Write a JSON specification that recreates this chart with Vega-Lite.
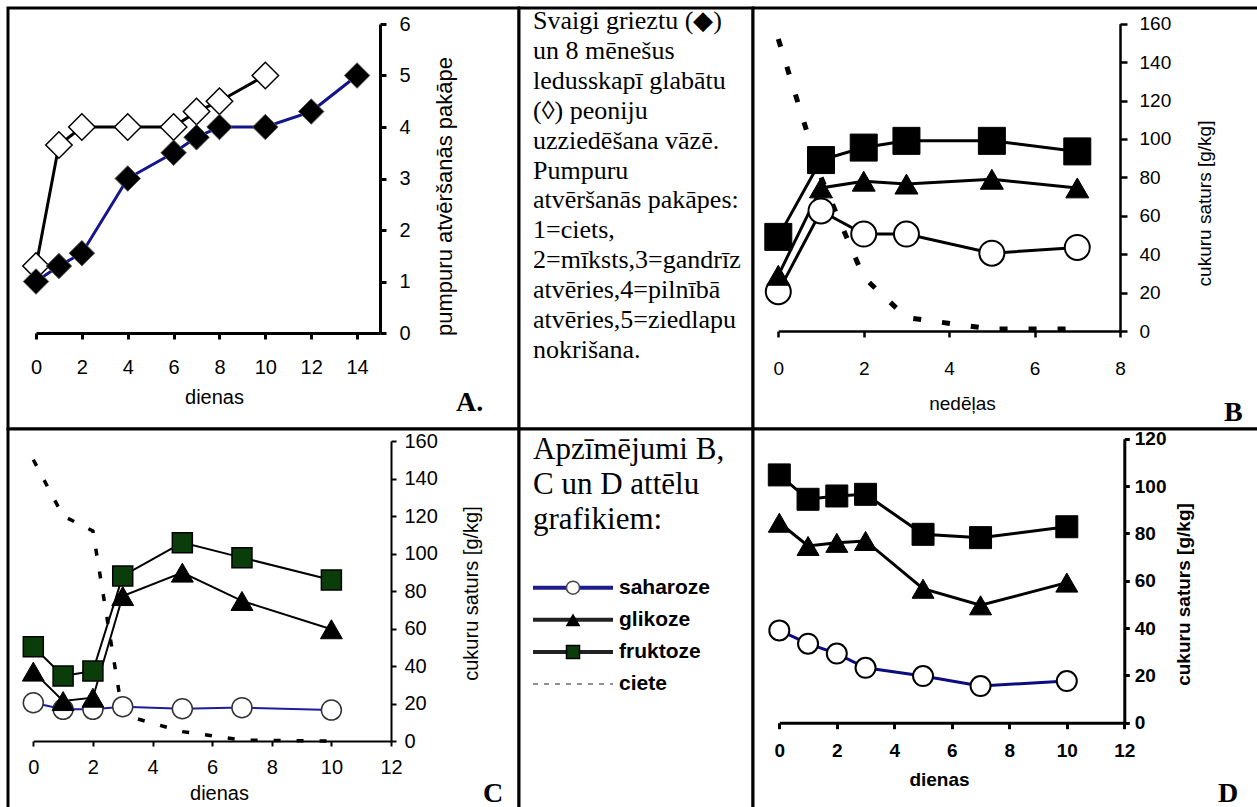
{
  "$schema": "https://vega.github.io/schema/vega-lite/v6.json",
  "padding": {"left": 6, "top": 6, "right": 0, "bottom": 0},
  "background": "white",
  "config": {
    "view": {"stroke": "black", "strokeWidth": 3, "fill": "white"},
    "axis": {"grid": false, "domainColor": "black", "tickColor": "black", "labelColor": "black", "titleColor": "black", "labelFont": "Liberation Sans", "titleFont": "Liberation Sans", "titleFontWeight": "normal", "labelOverlap": false, "labelFlush": false, "labelBound": false}
  },
  "datasets": {
    "A": [
      {"diena": 0, "pakape": 1.0, "ziedi": "svaigi"},
      {"diena": 1, "pakape": 1.3, "ziedi": "svaigi"},
      {"diena": 2, "pakape": 1.55, "ziedi": "svaigi"},
      {"diena": 4, "pakape": 3.0, "ziedi": "svaigi"},
      {"diena": 6, "pakape": 3.5, "ziedi": "svaigi"},
      {"diena": 7, "pakape": 3.8, "ziedi": "svaigi"},
      {"diena": 8, "pakape": 4.0, "ziedi": "svaigi"},
      {"diena": 10, "pakape": 4.0, "ziedi": "svaigi"},
      {"diena": 12, "pakape": 4.3, "ziedi": "svaigi"},
      {"diena": 14, "pakape": 5.0, "ziedi": "svaigi"},
      {"diena": 0, "pakape": 1.3, "ziedi": "glabati"},
      {"diena": 1, "pakape": 3.65, "ziedi": "glabati"},
      {"diena": 2, "pakape": 4.0, "ziedi": "glabati"},
      {"diena": 4, "pakape": 4.0, "ziedi": "glabati"},
      {"diena": 6, "pakape": 4.0, "ziedi": "glabati"},
      {"diena": 7, "pakape": 4.3, "ziedi": "glabati"},
      {"diena": 8, "pakape": 4.5, "ziedi": "glabati"},
      {"diena": 10, "pakape": 5.0, "ziedi": "glabati"}
    ],
    "B": [
      {"nedela": 0, "saturs": 49, "cukurs": "fruktoze"},
      {"nedela": 1, "saturs": 89, "cukurs": "fruktoze"},
      {"nedela": 2, "saturs": 95.5, "cukurs": "fruktoze"},
      {"nedela": 3, "saturs": 99, "cukurs": "fruktoze"},
      {"nedela": 5, "saturs": 99, "cukurs": "fruktoze"},
      {"nedela": 7, "saturs": 93.5, "cukurs": "fruktoze"},
      {"nedela": 0, "saturs": 29, "cukurs": "glikoze"},
      {"nedela": 1, "saturs": 74.5, "cukurs": "glikoze"},
      {"nedela": 2, "saturs": 78, "cukurs": "glikoze"},
      {"nedela": 3, "saturs": 76.5, "cukurs": "glikoze"},
      {"nedela": 5, "saturs": 79, "cukurs": "glikoze"},
      {"nedela": 7, "saturs": 74.5, "cukurs": "glikoze"},
      {"nedela": 0, "saturs": 20.5, "cukurs": "saharoze"},
      {"nedela": 1, "saturs": 62.5, "cukurs": "saharoze"},
      {"nedela": 2, "saturs": 50.5, "cukurs": "saharoze"},
      {"nedela": 3, "saturs": 50.5, "cukurs": "saharoze"},
      {"nedela": 5, "saturs": 40.5, "cukurs": "saharoze"},
      {"nedela": 7, "saturs": 43.5, "cukurs": "saharoze"},
      {"nedela": 0, "saturs": 152, "cukurs": "ciete"},
      {"nedela": 1, "saturs": 80, "cukurs": "ciete"},
      {"nedela": 2, "saturs": 28, "cukurs": "ciete"},
      {"nedela": 3, "saturs": 7, "cukurs": "ciete"},
      {"nedela": 5, "saturs": 1, "cukurs": "ciete"},
      {"nedela": 7, "saturs": 1, "cukurs": "ciete"}
    ],
    "C": [
      {"diena": 0, "saturs": 50.3, "cukurs": "fruktoze"},
      {"diena": 1, "saturs": 34.7, "cukurs": "fruktoze"},
      {"diena": 2, "saturs": 37.3, "cukurs": "fruktoze"},
      {"diena": 3, "saturs": 88, "cukurs": "fruktoze"},
      {"diena": 5, "saturs": 105.8, "cukurs": "fruktoze"},
      {"diena": 7, "saturs": 97.8, "cukurs": "fruktoze"},
      {"diena": 10, "saturs": 85.9, "cukurs": "fruktoze"},
      {"diena": 0, "saturs": 37, "cukurs": "glikoze"},
      {"diena": 1, "saturs": 21.3, "cukurs": "glikoze"},
      {"diena": 2, "saturs": 23.1, "cukurs": "glikoze"},
      {"diena": 3, "saturs": 77.3, "cukurs": "glikoze"},
      {"diena": 5, "saturs": 89.8, "cukurs": "glikoze"},
      {"diena": 7, "saturs": 74.7, "cukurs": "glikoze"},
      {"diena": 10, "saturs": 59.6, "cukurs": "glikoze"},
      {"diena": 0, "saturs": 20.4, "cukurs": "saharoze"},
      {"diena": 1, "saturs": 16.9, "cukurs": "saharoze"},
      {"diena": 2, "saturs": 16.9, "cukurs": "saharoze"},
      {"diena": 3, "saturs": 18.3, "cukurs": "saharoze"},
      {"diena": 5, "saturs": 17.2, "cukurs": "saharoze"},
      {"diena": 7, "saturs": 17.8, "cukurs": "saharoze"},
      {"diena": 10, "saturs": 16.5, "cukurs": "saharoze"},
      {"diena": 0, "saturs": 150, "cukurs": "ciete"},
      {"diena": 1, "saturs": 120, "cukurs": "ciete"},
      {"diena": 2, "saturs": 112, "cukurs": "ciete"},
      {"diena": 3, "saturs": 14, "cukurs": "ciete"},
      {"diena": 5, "saturs": 5, "cukurs": "ciete"},
      {"diena": 7, "saturs": 0.5, "cukurs": "ciete"},
      {"diena": 10, "saturs": 0, "cukurs": "ciete"}
    ],
    "D": [
      {"diena": 0, "saturs": 104.7, "cukurs": "fruktoze"},
      {"diena": 1, "saturs": 94.4, "cukurs": "fruktoze"},
      {"diena": 2, "saturs": 95.8, "cukurs": "fruktoze"},
      {"diena": 3, "saturs": 96.5, "cukurs": "fruktoze"},
      {"diena": 5, "saturs": 79.6, "cukurs": "fruktoze"},
      {"diena": 7, "saturs": 78.2, "cukurs": "fruktoze"},
      {"diena": 10, "saturs": 82.8, "cukurs": "fruktoze"},
      {"diena": 0, "saturs": 84.5, "cukurs": "glikoze"},
      {"diena": 1, "saturs": 74.7, "cukurs": "glikoze"},
      {"diena": 2, "saturs": 76, "cukurs": "glikoze"},
      {"diena": 3, "saturs": 76.8, "cukurs": "glikoze"},
      {"diena": 5, "saturs": 56.6, "cukurs": "glikoze"},
      {"diena": 7, "saturs": 49.6, "cukurs": "glikoze"},
      {"diena": 10, "saturs": 59.2, "cukurs": "glikoze"},
      {"diena": 0, "saturs": 39, "cukurs": "saharoze"},
      {"diena": 1, "saturs": 33.4, "cukurs": "saharoze"},
      {"diena": 2, "saturs": 29.2, "cukurs": "saharoze"},
      {"diena": 3, "saturs": 23.2, "cukurs": "saharoze"},
      {"diena": 5, "saturs": 19.7, "cukurs": "saharoze"},
      {"diena": 7, "saturs": 15.5, "cukurs": "saharoze"},
      {"diena": 10, "saturs": 17.6, "cukurs": "saharoze"}
    ],
    "opis": [
      {"rinda": 1, "teksts": "Svaigi grieztu (◆)"},
      {"rinda": 2, "teksts": "un 8 mēnešus"},
      {"rinda": 3, "teksts": "ledusskapī glabātu"},
      {"rinda": 4, "teksts": "(◊) peoniju"},
      {"rinda": 5, "teksts": "uzziedēšana vāzē."},
      {"rinda": 6, "teksts": "Pumpuru"},
      {"rinda": 7, "teksts": "atvēršanās pakāpes:"},
      {"rinda": 8, "teksts": "1=ciets,"},
      {"rinda": 9, "teksts": "2=mīksts,3=gandrīz"},
      {"rinda": 10, "teksts": "atvēries,4=pilnībā"},
      {"rinda": 11, "teksts": "atvēries,5=ziedlapu"},
      {"rinda": 12, "teksts": "nokrišana."}
    ],
    "apz": [
      {"rinda": 1, "teksts": "Apzīmējumi B,"},
      {"rinda": 2, "teksts": "C un D attēlu"},
      {"rinda": 3, "teksts": "grafikiem:"}
    ],
    "leg": [
      {"cukurs": "saharoze"},
      {"cukurs": "glikoze"},
      {"cukurs": "fruktoze"},
      {"cukurs": "ciete"}
    ]
  },
  "columns": 3,
  "spacing": 0,
  "bounds": "flush",
  "concat": [
    {
      "width": 511, "height": 421,
      "data": {"name": "A"},
      "encoding": {
        "x": {"field": "diena", "type": "quantitative", "scale": {"domain": [0, 15], "range": [28, 372], "nice": false, "zero": false},
          "axis": {"orient": "bottom", "offset": -96, "values": [0, 2, 4, 6, 8, 10, 12, 14], "title": "dienas", "labelFontSize": 20, "titleFontSize": 20, "tickSize": 6, "tickWidth": 3, "domainWidth": 3, "labelPadding": 18, "titleX": 206, "titleY": 70, "titleBaseline": "alphabetic"}},
        "y": {"field": "pakape", "type": "quantitative", "scale": {"domain": [0, 6], "range": [325, 16], "nice": false},
          "axis": {"orient": "right", "offset": -139, "values": [0, 1, 2, 3, 4, 5, 6], "title": "pumpuru atvēršanās pakāpe", "titleAngle": 270, "titleBaseline": "middle", "titleX": 64, "titleY": 188, "labelFontSize": 20, "titleFontSize": 22, "tickSize": 6, "tickWidth": 3, "domainWidth": 3, "labelPadding": 13}}
      },
      "layer": [
        {"transform": [{"filter": "datum.ziedi === 'glabati'"}], "mark": {"type": "line", "color": "black", "strokeWidth": 3}},
        {"transform": [{"filter": "datum.ziedi === 'glabati'"}], "mark": {"type": "point", "shape": "diamond", "filled": true, "fill": "white", "stroke": "black", "strokeWidth": 1.5, "size": 700, "opacity": 1}},
        {"transform": [{"filter": "datum.ziedi === 'svaigi'"}], "mark": {"type": "line", "color": "#14148c", "strokeWidth": 3}},
        {"transform": [{"filter": "datum.ziedi === 'svaigi'"}], "mark": {"type": "point", "shape": "diamond", "filled": true, "fill": "black", "stroke": "#555", "strokeWidth": 1, "size": 650, "opacity": 1}},
        {"data": {"values": [{"burts": "A."}]}, "mark": {"type": "text", "font": "Liberation Serif", "fontWeight": "bold", "fontSize": 28, "align": "left", "baseline": "alphabetic"},
          "encoding": {"x": {"value": 448}, "y": {"value": 403}, "text": {"field": "burts"}}}
      ]
    },
    {
      "width": 234, "height": 421,
      "data": {"name": "opis"},
      "mark": {"type": "text", "font": "Liberation Serif", "fontSize": 26, "align": "left", "baseline": "alphabetic", "color": "black"},
      "encoding": {
        "x": {"value": 14},
        "y": {"field": "rinda", "type": "quantitative", "scale": {"domain": [1, 12], "range": [21, 350], "nice": false, "zero": false}, "axis": null},
        "text": {"field": "teksts"}
      }
    },
    {
      "width": 507, "height": 421,
      "data": {"name": "B"},
      "encoding": {
        "x": {"field": "nedela", "type": "quantitative", "scale": {"domain": [0, 8], "range": [25.3, 367], "nice": false, "zero": false},
          "axis": {"orient": "bottom", "offset": -98, "values": [0, 2, 4, 6, 8], "title": "nedēļas", "labelFontSize": 19, "titleFontSize": 19, "tickSize": 6, "tickWidth": 2.5, "domainWidth": 2.5, "labelPadding": 22, "titleX": 209, "titleY": 78, "titleBaseline": "alphabetic"}},
        "y": {"field": "saturs", "type": "quantitative", "scale": {"domain": [0, 160], "range": [323, 15.7], "nice": false},
          "axis": {"orient": "right", "offset": -140, "values": [0, 20, 40, 60, 80, 100, 120, 140, 160], "title": "cukuru saturs [g/kg]", "titleAngle": 270, "titleBaseline": "middle", "titleX": 84, "titleY": 195, "labelFontSize": 19, "titleFontSize": 19, "tickSize": 7, "tickWidth": 2.5, "domainWidth": 2.5, "labelPadding": 12}}
      },
      "layer": [
        {"transform": [{"filter": "datum.cukurs === 'ciete'"}], "mark": {"type": "line", "color": "black", "strokeWidth": 5, "strokeDash": [8, 21]}},
        {"transform": [{"filter": "datum.cukurs === 'saharoze'"}], "mark": {"type": "line", "color": "black", "strokeWidth": 3}},
        {"transform": [{"filter": "datum.cukurs === 'glikoze'"}], "mark": {"type": "line", "color": "black", "strokeWidth": 3}},
        {"transform": [{"filter": "datum.cukurs === 'fruktoze'"}], "mark": {"type": "line", "color": "black", "strokeWidth": 3}},
        {"transform": [{"filter": "datum.cukurs === 'saharoze'"}], "mark": {"type": "point", "shape": "circle", "filled": true, "fill": "white", "stroke": "black", "strokeWidth": 2, "size": 625, "opacity": 1}},
        {"transform": [{"filter": "datum.cukurs === 'glikoze'"}], "mark": {"type": "point", "shape": "triangle-up", "filled": true, "fill": "black", "stroke": "black", "strokeWidth": 1, "size": 529, "opacity": 1}},
        {"transform": [{"filter": "datum.cukurs === 'fruktoze'"}], "mark": {"type": "point", "shape": "square", "filled": true, "fill": "black", "stroke": "black", "strokeWidth": 1, "size": 729, "opacity": 1}},
        {"data": {"values": [{"burts": "B"}]}, "mark": {"type": "text", "font": "Liberation Serif", "fontWeight": "bold", "fontSize": 28, "align": "left", "baseline": "alphabetic"},
          "encoding": {"x": {"value": 471}, "y": {"value": 413}, "text": {"field": "burts"}}}
      ]
    },
    {
      "width": 511, "height": 385,
      "data": {"name": "C"},
      "encoding": {
        "x": {"field": "diena", "type": "quantitative", "scale": {"domain": [0, 12], "range": [25.3, 383], "nice": false, "zero": false},
          "axis": {"orient": "bottom", "offset": -73, "values": [0, 2, 4, 6, 8, 10, 12], "title": "dienas", "labelFontSize": 20, "titleFontSize": 20, "tickSize": 5, "tickWidth": 2, "domainWidth": 2, "labelPadding": 11, "titleX": 211, "titleY": 58, "titleBaseline": "alphabetic"}},
        "y": {"field": "saturs", "type": "quantitative", "scale": {"domain": [0, 160], "range": [312, 12], "nice": false},
          "axis": {"orient": "right", "offset": -128, "values": [0, 20, 40, 60, 80, 100, 120, 140, 160], "title": "cukuru saturs [g/kg]", "titleAngle": 270, "titleBaseline": "middle", "titleX": 80, "titleY": 164, "labelFontSize": 20, "titleFontSize": 20, "tickSize": 5, "tickWidth": 2, "domainWidth": 2, "labelPadding": 8}}
      },
      "layer": [
        {"transform": [{"filter": "datum.cukurs === 'ciete'"}], "mark": {"type": "line", "color": "black", "strokeWidth": 3.5, "strokeDash": [7, 16]}},
        {"transform": [{"filter": "datum.cukurs === 'saharoze'"}], "mark": {"type": "line", "color": "#1c1ca0", "strokeWidth": 2}},
        {"transform": [{"filter": "datum.cukurs === 'glikoze'"}], "mark": {"type": "line", "color": "black", "strokeWidth": 2}},
        {"transform": [{"filter": "datum.cukurs === 'fruktoze'"}], "mark": {"type": "line", "color": "black", "strokeWidth": 2}},
        {"transform": [{"filter": "datum.cukurs === 'saharoze'"}], "mark": {"type": "point", "shape": "circle", "filled": true, "fill": "white", "stroke": "#333", "strokeWidth": 1.5, "size": 400, "opacity": 1}},
        {"transform": [{"filter": "datum.cukurs === 'glikoze'"}], "mark": {"type": "point", "shape": "triangle-up", "filled": true, "fill": "black", "stroke": "black", "strokeWidth": 1, "size": 480, "opacity": 1}},
        {"transform": [{"filter": "datum.cukurs === 'fruktoze'"}], "mark": {"type": "point", "shape": "square", "filled": true, "fill": "#0b3d0b", "stroke": "black", "strokeWidth": 1.5, "size": 400, "opacity": 1}},
        {"data": {"values": [{"burts": "C"}]}, "mark": {"type": "text", "font": "Liberation Serif", "fontWeight": "bold", "fontSize": 28, "align": "left", "baseline": "alphabetic"},
          "encoding": {"x": {"value": 475}, "y": {"value": 373}, "text": {"field": "burts"}}}
      ]
    },
    {
      "width": 234, "height": 385,
      "resolve": {"scale": {"y": "independent"}},
      "layer": [
        {
          "data": {"name": "apz"},
          "mark": {"type": "text", "font": "Liberation Serif", "fontSize": 31, "align": "left", "baseline": "alphabetic", "color": "black"},
          "encoding": {
            "x": {"value": 14},
            "y": {"field": "rinda", "type": "quantitative", "scale": {"domain": [1, 3], "range": [30, 100], "nice": false, "zero": false}, "axis": null},
            "text": {"field": "teksts"}
          }
        },
        {
          "data": {"name": "leg"},
          "encoding": {
            "y": {"field": "cukurs", "type": "nominal", "scale": {"type": "point", "domain": ["saharoze", "glikoze", "fruktoze", "ciete"], "range": [158.7, 255], "padding": 0}, "axis": null}
          },
          "layer": [
            {"transform": [{"filter": "datum.cukurs === 'saharoze'"}], "mark": {"type": "rule", "color": "#1c1c8c", "strokeWidth": 4}, "encoding": {"x": {"value": 14}, "x2": {"value": 94}}},
            {"transform": [{"filter": "datum.cukurs === 'glikoze' || datum.cukurs === 'fruktoze'"}], "mark": {"type": "rule", "color": "#222", "strokeWidth": 4}, "encoding": {"x": {"value": 14}, "x2": {"value": 94}}},
            {"transform": [{"filter": "datum.cukurs === 'ciete'"}], "mark": {"type": "rule", "color": "#222", "strokeWidth": 1.2, "strokeDash": [5, 6]}, "encoding": {"x": {"value": 14}, "x2": {"value": 94}}},
            {"transform": [{"filter": "datum.cukurs === 'saharoze'"}], "mark": {"type": "point", "shape": "circle", "filled": true, "fill": "white", "stroke": "#444", "strokeWidth": 1.5, "size": 170, "opacity": 1}, "encoding": {"x": {"value": 54}}},
            {"transform": [{"filter": "datum.cukurs === 'glikoze'"}], "mark": {"type": "point", "shape": "triangle-up", "filled": true, "fill": "black", "size": 220, "opacity": 1}, "encoding": {"x": {"value": 54}}},
            {"transform": [{"filter": "datum.cukurs === 'fruktoze'"}], "mark": {"type": "point", "shape": "square", "filled": true, "fill": "#0b3d0b", "stroke": "black", "strokeWidth": 1.5, "size": 170, "opacity": 1}, "encoding": {"x": {"value": 54}}},
            {"mark": {"type": "text", "font": "Liberation Sans", "fontWeight": "bold", "fontSize": 21, "align": "left", "baseline": "middle", "color": "black"}, "encoding": {"x": {"value": 100}, "text": {"field": "cukurs"}}}
          ]
        }
      ]
    },
    {
      "width": 507, "height": 385,
      "data": {"name": "D"},
      "encoding": {
        "x": {"field": "diena", "type": "quantitative", "scale": {"domain": [0, 12], "range": [26.3, 371.3], "nice": false, "zero": false},
          "axis": {"orient": "bottom", "offset": -91.3, "values": [0, 2, 4, 6, 8, 10, 12], "title": "dienas", "labelFontSize": 19, "titleFontSize": 19, "labelFontWeight": "bold", "titleFontWeight": "bold", "tickSize": 6, "tickWidth": 3, "domainWidth": 3, "labelPadding": 13, "titleX": 186, "titleY": 63, "titleBaseline": "alphabetic"}},
        "y": {"field": "saturs", "type": "quantitative", "scale": {"domain": [0, 120], "range": [293.7, 9.7], "nice": false},
          "axis": {"orient": "right", "offset": -135.7, "values": [0, 20, 40, 60, 80, 100, 120], "title": "cukuru saturs [g/kg]", "titleAngle": 270, "titleBaseline": "middle", "titleX": 59, "titleY": 165, "labelFontSize": 19, "titleFontSize": 19, "labelFontWeight": "bold", "titleFontWeight": "bold", "tickSize": 5, "tickWidth": 3, "domainWidth": 3, "labelPadding": 5}}
      },
      "layer": [
        {"transform": [{"filter": "datum.cukurs === 'saharoze'"}], "mark": {"type": "line", "color": "#0c0c80", "strokeWidth": 3}},
        {"transform": [{"filter": "datum.cukurs === 'glikoze'"}], "mark": {"type": "line", "color": "black", "strokeWidth": 3}},
        {"transform": [{"filter": "datum.cukurs === 'fruktoze'"}], "mark": {"type": "line", "color": "black", "strokeWidth": 3}},
        {"transform": [{"filter": "datum.cukurs === 'saharoze'"}], "mark": {"type": "point", "shape": "circle", "filled": true, "fill": "white", "stroke": "black", "strokeWidth": 2, "size": 400, "opacity": 1}},
        {"transform": [{"filter": "datum.cukurs === 'glikoze'"}], "mark": {"type": "point", "shape": "triangle-up", "filled": true, "fill": "black", "stroke": "black", "strokeWidth": 1, "size": 484, "opacity": 1}},
        {"transform": [{"filter": "datum.cukurs === 'fruktoze'"}], "mark": {"type": "point", "shape": "square", "filled": true, "fill": "black", "stroke": "black", "strokeWidth": 1, "size": 484, "opacity": 1}},
        {"data": {"values": [{"burts": "D"}]}, "mark": {"type": "text", "font": "Liberation Serif", "fontWeight": "bold", "fontSize": 28, "align": "left", "baseline": "alphabetic"},
          "encoding": {"x": {"value": 465}, "y": {"value": 373}, "text": {"field": "burts"}}}
      ]
    }
  ]
}
